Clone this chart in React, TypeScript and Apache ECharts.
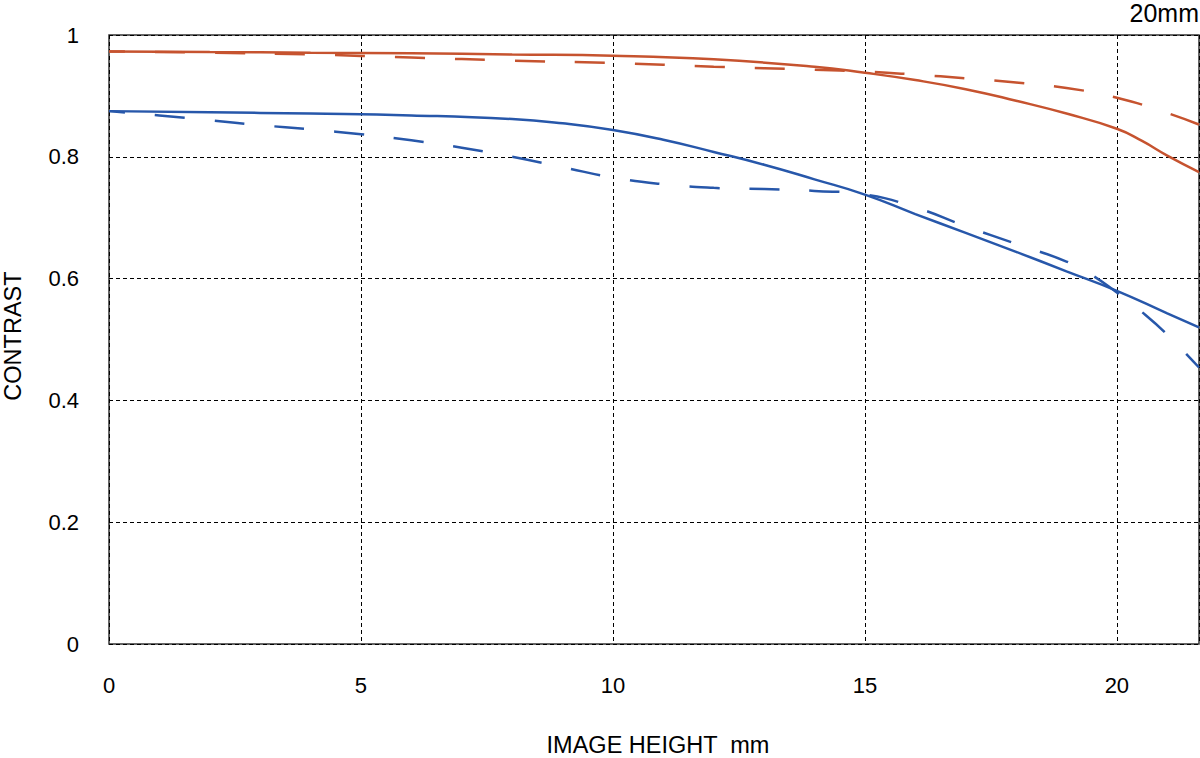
import React, { useEffect, useRef } from "react";
import * as echarts from "echarts";

// Image height (mm) sample positions and contrast values
const redSolidX = [0, 2, 4, 6, 8, 10, 12, 14, 15, 16, 17, 18, 19, 20, 20.5, 21, 21.63];
const redSolidY = [0.973, 0.972, 0.971, 0.97, 0.968, 0.966, 0.96, 0.948, 0.938, 0.926, 0.911, 0.892, 0.871, 0.846, 0.826, 0.802, 0.775];

const redDashX = [0, 2, 4, 6, 8, 10, 12, 14, 15, 16, 17, 18, 19, 20, 21, 21.63];
const redDashY = [0.973, 0.971, 0.968, 0.963, 0.958, 0.954, 0.948, 0.943, 0.94, 0.935, 0.929, 0.922, 0.913, 0.897, 0.872, 0.853];

const blueSolidX = [0, 2, 4, 6, 8, 9, 10, 11, 12, 13, 14, 15, 16, 17, 18, 19, 20, 21, 21.63];
const blueSolidY = [0.875, 0.873, 0.871, 0.868, 0.862, 0.855, 0.844, 0.828, 0.808, 0.787, 0.763, 0.738, 0.706, 0.675, 0.644, 0.612, 0.58, 0.543, 0.52];

const blueDashX = [0, 1, 2, 3, 4, 5, 6, 7, 8, 9, 10, 11, 12, 13, 14, 15, 16, 17, 18, 19, 19.5, 20, 20.5, 21, 21.63];
const blueDashY = [0.875, 0.868, 0.86, 0.852, 0.845, 0.837, 0.827, 0.815, 0.8, 0.783, 0.766, 0.755, 0.749, 0.747, 0.744, 0.738, 0.717, 0.686, 0.657, 0.628, 0.606, 0.577, 0.545, 0.508, 0.454];

const xTitle = "IMAGE HEIGHT  mm";
const yTitle = "CONTRAST";
const cornerLabel = "20mm";

const RED = "#c6532f";
const BLUE = "#2757aa";
const FONT = "'Liberation Sans', Arial, Helvetica, sans-serif";

const pairs = (xs: number[], ys: number[]) => xs.map((x, i) => [x, ys[i]]);

export default function App() {
  const ref = useRef<HTMLDivElement>(null);

  useEffect(() => {
    if (!ref.current) return;
    const chart = echarts.init(ref.current, undefined, { renderer: "svg" });
    const gridDash = { color: "#000", width: 1, type: [4, 3] as number[] };
    const lineSeries = (name: string, xs: number[], ys: number[], color: string, dashed: boolean) => ({
      name,
      type: "line",
      data: pairs(xs, ys),
      showSymbol: false,
      smooth: 0.5,
      lineStyle: {
        color,
        width: 2.5,
        type: dashed ? [30, 30] : "solid",
        dashOffset: dashed ? 14 : 0,
      },
      z: 3,
    });
    chart.setOption({
      animation: false,
      backgroundColor: "#fff",
      grid: {
        left: 109,
        right: 1,
        top: 35,
        bottom: 114,
        show: true,
        borderColor: "#333",
        borderWidth: 1.5,
        backgroundColor: "transparent",
      },
      xAxis: {
        type: "value",
        min: 0,
        max: 21.63,
        interval: 5,
        axisLine: { show: false },
        axisTick: { show: false },
        axisLabel: {
          showMaxLabel: false,
          color: "#000",
          fontSize: 22,
          fontFamily: FONT,
          margin: 30,
        },
        splitLine: { show: true, lineStyle: gridDash },
      },
      yAxis: {
        type: "value",
        min: 0,
        max: 1,
        interval: 0.2,
        axisLine: { show: false },
        axisTick: { show: false },
        axisLabel: {
          color: "#000",
          fontSize: 22,
          fontFamily: FONT,
          margin: 30,
        },
        splitLine: { show: true, lineStyle: gridDash },
      },
      graphic: [
        {
          type: "text",
          right: 1,
          top: 0,
          style: { text: cornerLabel, fill: "#000", fontSize: 25, fontFamily: FONT },
        },
        {
          type: "text",
          x: 13,
          y: 336,
          rotation: Math.PI / 2,
          style: {
            text: yTitle,
            fill: "#000",
            fontSize: 23.5,
            fontFamily: FONT,
            align: "center",
            verticalAlign: "middle",
          },
        },
        {
          type: "text",
          x: 658,
          y: 745,
          style: {
            text: xTitle,
            fill: "#000",
            fontSize: 23.5,
            fontFamily: FONT,
            align: "center",
            verticalAlign: "middle",
          },
        },
      ],
      series: [
        lineSeries("Red solid", redSolidX, redSolidY, RED, false),
        lineSeries("Red dashed", redDashX, redDashY, RED, true),
        lineSeries("Blue solid", blueSolidX, blueSolidY, BLUE, false),
        lineSeries("Blue dashed", blueDashX, blueDashY, BLUE, true),
      ],
    });
    return () => chart.dispose();
  }, []);

  return (
    <div
      ref={ref}
      style={{ position: "fixed", left: 0, top: 0, width: 1200, height: 758, background: "#fff" }}
    />
  );
}
